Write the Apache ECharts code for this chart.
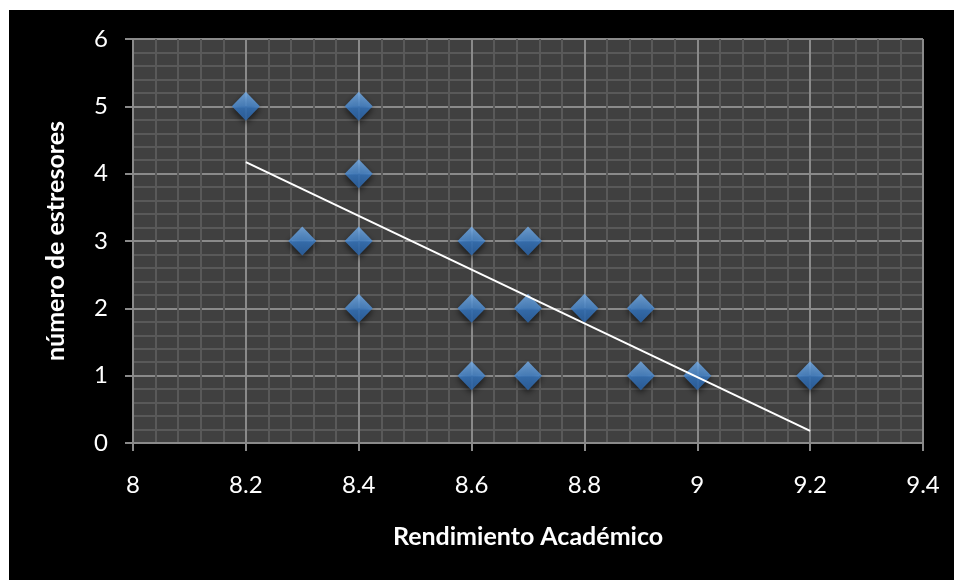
<!DOCTYPE html>
<html>
<head>
<meta charset="utf-8">
<script src="https://cdn.jsdelivr.net/npm/echarts@6/dist/echarts.min.js"></script>
<style>
  html, body { margin: 0; padding: 0; background: #ffffff; }
  #chart { position: absolute; left: 9px; top: 10px; width: 945px; height: 570px; background: #000000; }
</style>
</head>
<body>
<div id="chart"></div>
<script>
// Rendimiento académico vs. número de estresores
const rendimiento = [8.2, 8.4, 8.4, 8.3, 8.4, 8.4, 8.6, 8.7, 8.6, 8.7, 8.8, 8.9, 8.6, 8.7, 8.9, 9.0, 9.2];
const estresores  = [5,   5,   4,   3,   3,   2,   3,   3,   2,   2,   2,   2,   1,   1,   1,   1,   1];

// linear trend line end points
const trendX = [8.2, 9.2];
const trendY = [4.17, 0.18];

const xTicks = { min: 8, max: 9.4, interval: 0.2 };
const yTicks = { min: 0, max: 6, interval: 1 };

const font = 'Lato, "Open Sans", sans-serif';

const chart = echarts.init(document.getElementById('chart'));

const points = rendimiento.map((x, i) => [x, estresores[i]]);
const trend = trendX.map((x, i) => [x, trendY[i]]);

const majorLine = '#8a8a8a';
const minorLine = '#595959';

chart.setOption({
  backgroundColor: '#000000',
  animation: false,
  grid: {
    left: 124, top: 29, right: 31, bottom: 137,
    show: true, backgroundColor: '#404040', borderColor: majorLine, borderWidth: 1
  },
  xAxis: {
    type: 'value',
    min: xTicks.min, max: xTicks.max, interval: xTicks.interval,
    name: 'Rendimiento Académico',
    nameLocation: 'middle',
    nameGap: 81,
    nameTextStyle: { color: '#ffffff', fontFamily: font, fontWeight: 'bold', fontSize: 25 },
    axisLine: { show: true, lineStyle: { color: majorLine, width: 2 } },
    axisTick: { show: true, length: 8, inside: false, lineStyle: { color: majorLine, width: 2 } },
    axisLabel: {
      color: '#ffffff', fontFamily: font, fontSize: 24, margin: 30,
      formatter: v => String(parseFloat(v.toFixed(1)))
    },
    splitLine: { show: true, lineStyle: { color: majorLine, width: 2 } },
    minorTick: { show: false, splitNumber: 5 },
    minorSplitLine: { show: true, lineStyle: { color: minorLine, width: 2 } }
  },
  yAxis: {
    type: 'value',
    min: yTicks.min, max: yTicks.max, interval: yTicks.interval,
    name: 'número de estresores',
    nameLocation: 'middle',
    nameGap: 65,
    nameTextStyle: { color: '#ffffff', fontFamily: font, fontWeight: 'bold', fontSize: 25 },
    axisLine: { show: true, lineStyle: { color: majorLine, width: 2 } },
    axisTick: { show: true, length: 8, inside: false, lineStyle: { color: majorLine, width: 2 } },
    axisLabel: { color: '#ffffff', fontFamily: font, fontSize: 24, margin: 25 },
    splitLine: { show: true, lineStyle: { color: majorLine, width: 2 } },
    minorTick: { show: false, splitNumber: 5 },
    minorSplitLine: { show: true, lineStyle: { color: minorLine, width: 2 } }
  },
  series: [
    {
      type: 'scatter',
      data: points,
      symbol: 'diamond',
      symbolSize: [28, 29],
      z: 3,
      itemStyle: {
        color: new echarts.graphic.LinearGradient(0, 0, 0, 1, [
          { offset: 0, color: '#79b2ee' },
          { offset: 0.48, color: '#5294dc' },
          { offset: 0.52, color: '#3b7fcc' },
          { offset: 1, color: '#2c68b0' }
        ]),
        shadowColor: 'rgba(0,0,0,0.75)',
        shadowBlur: 6,
        shadowOffsetY: 3
      }
    },
    {
      type: 'line',
      data: trend,
      symbol: 'none',
      z: 4,
      lineStyle: { color: '#ffffff', width: 2 }
    }
  ]
});
</script>
</body>
</html>
